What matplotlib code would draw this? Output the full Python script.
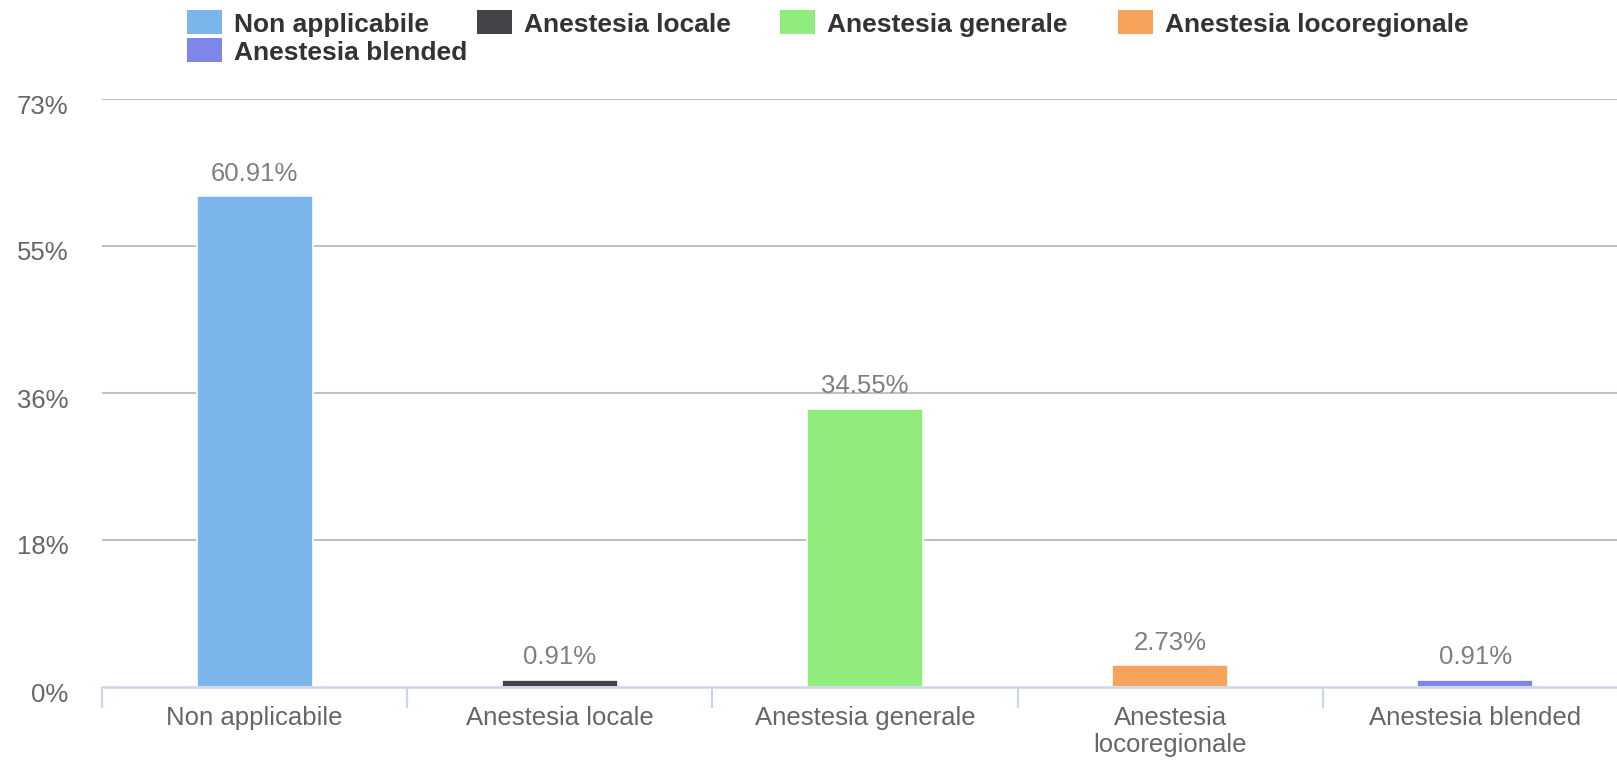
import matplotlib
matplotlib.use("Agg")
import matplotlib.pyplot as plt
from matplotlib.patches import Rectangle
from matplotlib.transforms import ScaledTranslation

categories = ["Non applicabile", "Anestesia locale", "Anestesia generale",
              "Anestesia locoregionale", "Anestesia blended"]
tick_labels = ["Non applicabile", "Anestesia locale", "Anestesia generale",
               "Anestesia\nlocoregionale", "Anestesia blended"]
values = [60.91, 0.91, 34.55, 2.73, 0.91]
colors = ["#7cb5ec", "#434348", "#90ed7d", "#f7a35c", "#8085e9"]
y_ticks = [0, 18.25, 36.5, 54.75, 73]
y_tick_labels = ["0%", "18%", "36%", "55%", "73%"]

plt.rcParams['font.family'] = ['Liberation Sans', 'DejaVu Sans']

W, H = 1617, 766
fig = plt.figure(figsize=(W / 100, H / 100), dpi=100)
ax = fig.add_axes([102 / W, 79 / H, 1526 / W, 588 / H])

x = list(range(len(categories)))
ax.bar(x, values, width=0.38, color=colors, edgecolor="white", linewidth=1.2, zorder=3)

for xi, v in zip(x, values):
    ax.annotate(f"{v:.2f}%", (xi, v), xytext=(0, 11), textcoords="offset points",
                ha="center", va="baseline", fontsize=18.5, color="#7f7f7f", zorder=4)

ax.set_xlim(-0.5, 4.5)
ax.set_ylim(0, 73)

# gridlines
for t in y_ticks[1:]:
    ax.axhline(t, color="#c2c2c2", linewidth=1.5, zorder=1)

ax.set_yticks(y_ticks)
ax.set_yticklabels(y_tick_labels, fontsize=18.5, color="#666666")
ax.tick_params(axis="y", length=0, pad=24)
for lab in ax.get_yticklabels():
    lab.set_transform(lab.get_transform() + ScaledTranslation(0, -5 / 100, fig.dpi_scale_trans))

ax.set_xticks([i - 0.5 for i in range(len(categories) + 1)])
ax.set_xticklabels([])
ax.tick_params(axis="x", which="major", length=15, width=1.6, color="#ccd6eb", direction="out")
ax.set_xticks(x, minor=True)
ax.set_xticklabels(tick_labels, minor=True, fontsize=18.5, color="#666666", linespacing=1.15)
ax.tick_params(axis="x", which="minor", length=0, pad=14)

for s in ["top", "right", "left"]:
    ax.spines[s].set_visible(False)
ax.spines["bottom"].set_color("#ccd6eb")
ax.spines["bottom"].set_linewidth(1.8)
ax.spines["bottom"].set_zorder(5)

# legend (manual, Highcharts-style): (series index, swatch x, swatch top, text baseline)
legend_items = [(0, 187, 10, 32), (1, 477, 10, 32), (2, 780, 10, 32),
                (3, 1118, 10, 32), (4, 187, 38, 60)]
for idx, lx, top, base in legend_items:
    sw, sh = 35, 24
    fig.patches.append(Rectangle((lx / W, 1 - (top + sh) / H), sw / W, sh / H,
                                 transform=fig.transFigure, facecolor=colors[idx],
                                 edgecolor="none"))
    fig.text((lx + 47) / W, 1 - base / H, categories[idx], fontsize=19,
             fontweight="bold", color="#333333", ha="left", va="baseline")

fig.savefig("out.png", dpi=100, facecolor="white")
